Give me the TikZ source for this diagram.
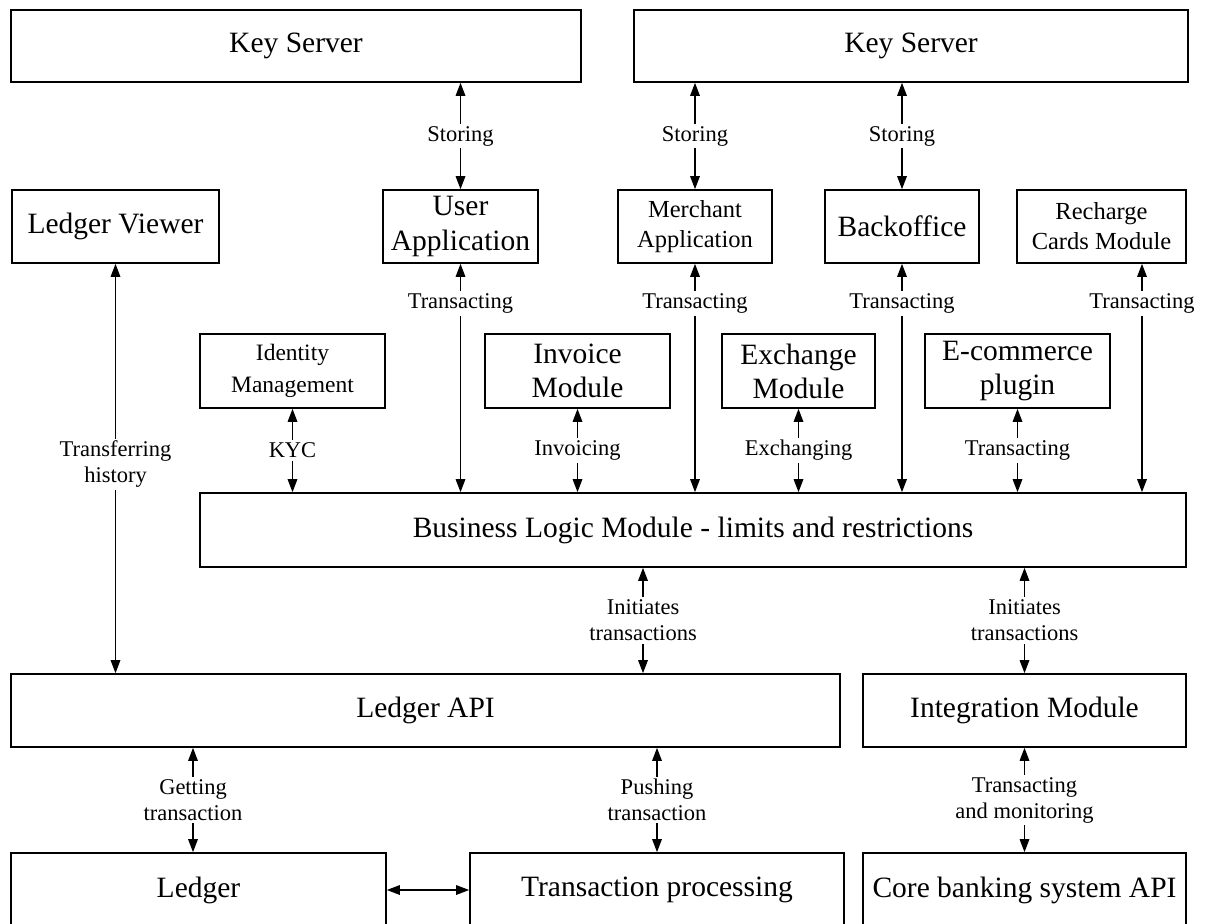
\documentclass[tikz,border=0pt]{standalone}
\usepackage{fontspec}
\setmainfont{Liberation Serif}
\usetikzlibrary{arrows.meta}
\tikzset{
  box/.style={draw=black, line width=1.6pt, inner sep=0pt, align=center,
    font=\fontsize{29.5}{32}\selectfont},
  lab/.style={fill=white, inner sep=2.5pt, align=center,
    font=\fontsize{22.5}{26}\selectfont},
  arr/.style={line width=1.5pt, {Triangle[length=13pt,width=9.5pt]}-{Triangle[length=13pt,width=9.5pt]}}
}
\begin{document}
\begin{tikzpicture}[x=1pt,y=-1pt]
\useasboundingbox (0,0) rectangle (1208,924);
\clip (0,0) rectangle (1208,924);
\fill[white] (0,0) rectangle (1208,924);
% top row
\node[box, minimum width=570pt, minimum height=72pt] (ks1) at (296,46) {Key Server};
\node[box, minimum width=554pt, minimum height=72pt] (ks2) at (911,46) {Key Server};
% second row
\node[box, minimum width=207pt, minimum height=73pt] (lv) at (115.5,226.5) {Ledger Viewer};
\node[box, minimum width=155pt, minimum height=73pt] (ua) at (460.5,226.5) {User\\[3pt]Application};
\node[box, minimum width=154pt, minimum height=73pt, font=\fontsize{24.5}{30}\selectfont] (ma) at (695,226.5) {Merchant\\Application};
\node[box, minimum width=154pt, minimum height=73pt] (bo) at (902,226.5) {Backoffice};
\node[box, minimum width=169pt, minimum height=73pt, font=\fontsize{24.5}{30}\selectfont] (rc) at (1101.5,226.5) {Recharge\\Cards Module};
% third row
\node[box, minimum width=185pt, minimum height=74pt, font=\fontsize{23.5}{32}\selectfont] (im) at (292.5,371) {Identity\\Management};
\node[box, minimum width=185pt, minimum height=74pt] (inv) at (577.5,371) {Invoice\\[2pt]Module};
\node[box, minimum width=153pt, minimum height=74pt] (ex) at (798.5,371) {Exchange\\[2pt]Module};
\node[box, minimum width=185pt, minimum height=74pt] (ec) at (1017.5,371) {E-commerce\\[2pt]plugin};
% business logic
\node[box, minimum width=986pt, minimum height=74pt] (bl) at (693,530) {Business Logic Module - limits and restrictions};
% api row
\node[box, minimum width=829pt, minimum height=73pt] (api) at (425.5,710.5) {Ledger API};
\node[box, minimum width=323pt, minimum height=73pt] (int) at (1024.5,710.5) {Integration Module};
% bottom row
\node[box, minimum width=375pt, minimum height=74pt] (led) at (198.5,890) {Ledger};
\node[box, minimum width=374pt, minimum height=74pt] (tp) at (657,890) {Transaction processing};
\node[box, minimum width=323pt, minimum height=74pt] (core) at (1024.5,890) {Core banking system API};
% key server connectors
\draw[arr] (ks1.south -| ua.north) -- (ua.north) node[lab, midway] {Storing};
\draw[arr] (ks2.south -| ma.north) -- (ma.north) node[lab, midway] {Storing};
\draw[arr] (ks2.south -| bo.north) -- (bo.north) node[lab, midway] {Storing};
% ledger viewer
\draw[arr] (lv.south) -- (lv.south |- api.north) node[lab, pos=0.49] {Transferring\\history};
% second row to business logic
\draw[arr] (ua.south) -- (ua.south |- bl.north) node[lab, pos=0.174] {Transacting};
\draw[arr] (ma.south) -- (ma.south |- bl.north) node[lab, pos=0.174] {Transacting};
\draw[arr] (bo.south) -- (bo.south |- bl.north) node[lab, pos=0.174] {Transacting};
\draw[arr] ([xshift=40.5pt]rc.south) -- ([xshift=40.5pt]rc.south |- bl.north) node[lab, pos=0.174] {Transacting};
% third row to business logic
\draw[arr] (im.south) -- (im.south |- bl.north) node[lab, midway] {KYC};
\draw[arr] (inv.south) -- (inv.south |- bl.north) node[lab, midway] {Invoicing};
\draw[arr] (ex.south) -- (ex.south |- bl.north) node[lab, midway] {Exchanging};
\draw[arr] (ec.south) -- (ec.south |- bl.north) node[lab, midway] {Transacting};
% business logic to api row
\draw[arr] ([xshift=-50pt]bl.south) -- ([xshift=-50pt]bl.south |- api.north) node[lab, midway] {Initiates\\transactions};
\draw[arr] (int.north |- bl.south) -- (int.north) node[lab, midway] {Initiates\\transactions};
% api row to bottom row
\draw[arr] ([xshift=-5.5pt]led.north |- api.south) -- ([xshift=-5.5pt]led.north) node[lab, midway] {Getting\\transaction};
\draw[arr] (tp.north |- api.south) -- (tp.north) node[lab, midway] {Pushing\\transaction};
\draw[arr] (core.north |- int.south) -- (core.north) node[lab, midway] {Transacting\\and monitoring};
\draw[arr] (led.east) -- (tp.west);
\end{tikzpicture}
\end{document}
